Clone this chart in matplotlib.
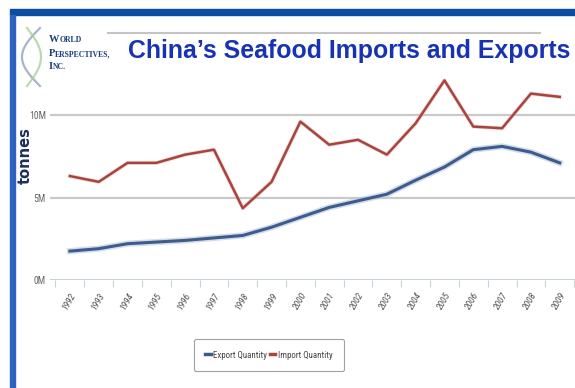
import matplotlib
matplotlib.use("Agg")
import matplotlib.pyplot as plt
import matplotlib.patheffects as pe
from matplotlib.patches import Rectangle
from matplotlib.lines import Line2D
from matplotlib import font_manager
import numpy as np

years = ["1992", "1993", "1994", "1995", "1996", "1997", "1998", "1999", "2000",
         "2001", "2002", "2003", "2004", "2005", "2006", "2007", "2008", "2009"]
export_qty = [1.75, 1.9, 2.2, 2.3, 2.4, 2.55, 2.7, 3.2, 3.8, 4.4, 4.8, 5.2,
              6.05, 6.85, 7.9, 8.1, 7.75, 7.1]          # million tonnes
import_qty = [6.3, 5.95, 7.1, 7.1, 7.6, 7.9, 4.35, 5.95, 9.6, 8.2, 8.5, 7.6,
              9.5, 12.1, 9.3, 9.2, 11.3, 11.1]          # million tonnes
ytick_vals = [0, 5, 10]
ytick_labels = ["0M", "5M", "10M"]
series_names = ["Export Quantity", "Import Quantity"]
title = "China\u2019s Seafood Imports and Exports"

names = {f.name for f in font_manager.fontManager.ttflist}
NARROW = "Liberation Sans"
for cand in ["Liberation Sans Narrow", "Roboto Condensed", "Open Sans Condensed"]:
    if cand in names:
        NARROW = cand
        break

W, H = 575, 388
fig = plt.figure(figsize=(W / 100, H / 100), dpi=100)
fig.patch.set_facecolor("white")

def fx(px):
    return px / W

def fy(py):
    return 1 - py / H

# blue slide border
fig.patches.append(Rectangle((fx(10), fy(15)), fx(565), fy(9) - fy(15),
                             transform=fig.transFigure, color="#0b4da2", zorder=0))
fig.patches.append(Rectangle((fx(10), 0), fx(5), fy(15),
                             transform=fig.transFigure, color="#2e62c0", zorder=0))
# gray rule under header
fig.add_artist(Line2D([fx(108), fx(540)], [fy(33), fy(33)], transform=fig.transFigure,
                      color="#c4c4c4", lw=1.5))

# logo swooshes
t = np.linspace(0, 1, 60)
yy = 28 + 58 * t
x1 = 40 - 18 * np.sin(np.pi * t)
x2 = 27 + 14 * np.sin(np.pi * t)
fig.add_artist(Line2D(fx(x1), fy(yy), transform=fig.transFigure, color="#8a9cbc", lw=1.6, alpha=0.75))
fig.add_artist(Line2D(fx(x2), fy(yy), transform=fig.transFigure, color="#a6cc94", lw=1.6, alpha=0.75))

# logo text (small caps imitation)
logo_col = "#1d3f7a"
for txt, ypix in [("WORLD", 42), ("PERSPECTIVES,", 56), ("INC.", 69)]:
    first = fig.text(fx(49), fy(ypix), txt[0], fontsize=7.5, family="Liberation Serif",
                     color=logo_col, fontweight="bold", va="baseline", ha="left")
    ann = matplotlib.text.Annotation(txt[1:], xy=(1, 0), xycoords=first, va="bottom",
                                     ha="left", fontsize=5.6, family="Liberation Serif",
                                     color=logo_col, fontweight="bold")
    fig.add_artist(ann)

# title
fig.text(fx(128), fy(51), title, fontsize=17.9, fontweight="bold",
         family="Liberation Sans", color="#1733b3", va="center", ha="left")

# axes
ax = fig.add_axes([fx(50), fy(280), fx(575) - fx(50), fy(70) - fy(280)])
x = np.arange(len(years))
ax.set_xlim(-0.69, 17.53)
ax.set_ylim(0, 12.73)
for s in ax.spines.values():
    s.set_visible(False)

for v in ytick_vals[1:]:
    ax.axhline(v, color="#c9c9c9", lw=1.6, zorder=1)
ax.axhline(0, color="#b9c8d6", lw=1.2, zorder=1)

ax.plot(x, export_qty, color="#3d5b8c", lw=2.2, zorder=3, solid_joinstyle="round",
        path_effects=[pe.Stroke(linewidth=4.5, foreground="#b9c7dc", alpha=0.6), pe.Normal()])
ax.plot(x, import_qty, color="#a7443e", lw=1.8, zorder=3, solid_joinstyle="round",
        path_effects=[pe.Stroke(linewidth=3.0, foreground="#e3b9b5", alpha=0.5), pe.Normal()])

ax.set_yticks(ytick_vals)
ax.set_yticklabels(ytick_labels, fontsize=7, color="#666666", family=NARROW)
ax.tick_params(axis="y", length=0, pad=3)

ax.set_xticks(x)
ax.set_xticklabels(years, rotation=60, ha="right", va="top", rotation_mode="anchor",
                   fontsize=6.8, color="#505050", style="italic", family=NARROW)
ax.tick_params(axis="x", length=0, pad=8)
ax.set_xticks(np.arange(len(years) + 1) - 0.5, minor=True)
ax.tick_params(axis="x", which="minor", length=5, color="#c8d2dc", width=0.8)

fig.text(fx(25), fy(156), "tonnes", rotation=90, fontsize=10.5, fontweight="bold",
         color="#1d2e5a", ha="center", va="center")

handles = [Line2D([], [], color="#3d5b8c", lw=2.5), Line2D([], [], color="#a7443e", lw=2.5)]
leg = fig.legend(handles, series_names, loc="center", bbox_to_anchor=(fx(269), fy(355)),
                 ncol=2, prop={"family": NARROW, "size": 6.4}, handlelength=0.6,
                 handletextpad=0.3, columnspacing=0.3,
                 frameon=True, fancybox=True, edgecolor="#8a8a8a", borderpad=1.3)
leg.get_frame().set_linewidth(0.8)
for tt in leg.get_texts():
    tt.set_color("#444444")

fig.savefig("out.png", dpi=100)
